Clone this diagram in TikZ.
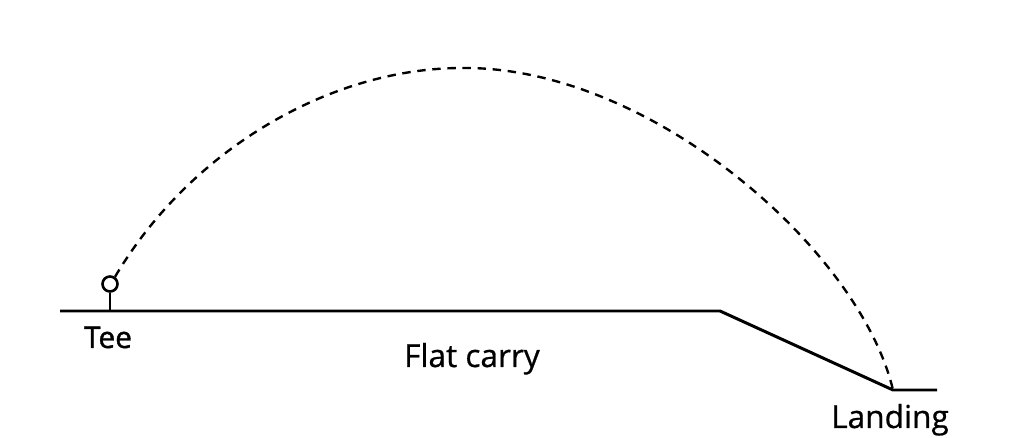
\documentclass[tikz,border=0pt]{standalone}
\usepackage{fontspec}
\setmainfont{Open Sans}
\newfontfamily\lblfont[UprightFeatures={FakeBold=0.7}]{Open Sans}
\newfontfamily\teefont[UprightFeatures={FakeBold=1.2}]{Open Sans}
\usetikzlibrary{positioning, calc}

\begin{document}
\begin{tikzpicture}[
  x=0.02cm, y=-0.02cm,
  every path/.style={line width=1.6pt},
  ground/.style = {line width=1.7pt, line join=round},
  flight/.style = {line width=1.35pt, dash pattern=on 4.8pt off 3.8pt},
  ball/.style   = {circle, draw, line width=1.5pt, inner sep=0pt, minimum size=0.3cm},
  lbl/.style    = {anchor=base, inner sep=0pt, font=\lblfont\fontsize{18}{20}\selectfont},
  ]
  \useasboundingbox (0,0) rectangle (1029,438);

  % Ground line
  \coordinate (start) at (60,311);
  \coordinate (edge)  at (720,311);
  \coordinate (land)  at (893,390);
  \coordinate (stop)  at (937,390);
  \coordinate (apex)  at (462,68);
  \draw[ground] (start) -- (edge) -- (land) -- (stop);

  % Tee and ball
  \node (ball) at (110,284) [ball] {};
  \coordinate (peg) at (110,311);
  \draw (ball.south) -- (peg);

  % Flight of the ball
  \draw[flight]
  (ball.55) .. controls (190,150) and (330,68) .. (apex)
            .. controls (650,66) and (860,250) .. (land);

  % Labels
  \node (tee)   at (108,348) [lbl, font=\teefont\fontsize{17}{18}\selectfont] {Tee};
  \node (carry) at (472,367) [lbl] {Flat carry};
  \node (landing) at (890,428) [lbl] {Landing};
\end{tikzpicture}
\end{document}
